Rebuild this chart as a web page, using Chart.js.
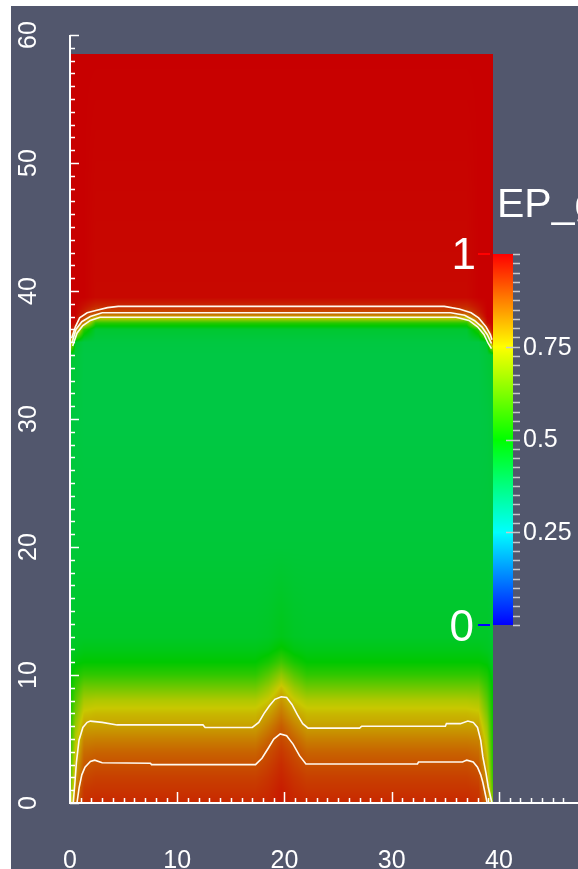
<!DOCTYPE html>
<html>
<head>
<meta charset="utf-8">
<title>EP_g</title>
<script src="https://cdn.jsdelivr.net/npm/chart.js@4.4.1/dist/chart.umd.min.js"></script>
<style>
  html, body { margin: 0; padding: 0; background: #fff; }
  #plot { position: absolute; left: 11px; top: 6px; background: #52576d; }
</style>
</head>
<body>
<canvas id="plot" width="567" height="863"></canvas>
<script>
let heights = [0, 1, 2, 3, 4, 5, 6, 7, 8, 9, 10, 11, 12, 13, 20, 30, 35, 36, 37, 37.5, 38, 38.3, 38.8, 39.5, 58.5];

// EP_g profiles, bottom to top, one per kind of column
let epgBed      = [0.95, 0.935, 0.92, 0.90, 0.875, 0.84, 0.80, 0.77, 0.72, 0.64, 0.56, 0.50, 0.47, 0.45, 0.43, 0.415, 0.415, 0.42, 0.44, 0.55, 0.80, 0.90, 0.95, 0.99, 1.0];
let epgShoulder = [0.955, 0.945, 0.935, 0.92, 0.903, 0.875, 0.84, 0.80, 0.755, 0.69, 0.61, 0.53, 0.48, 0.455, 0.43, 0.415, 0.415, 0.42, 0.44, 0.55, 0.80, 0.90, 0.95, 0.99, 1.0];
let epgBump     = [0.97, 0.965, 0.955, 0.945, 0.93, 0.91, 0.885, 0.85, 0.815, 0.765, 0.68, 0.58, 0.51, 0.47, 0.43, 0.415, 0.415, 0.42, 0.44, 0.55, 0.80, 0.90, 0.95, 0.99, 1.0];
let epgInner    = [0.94, 0.93, 0.91, 0.89, 0.865, 0.835, 0.80, 0.76, 0.71, 0.64, 0.56, 0.50, 0.47, 0.45, 0.43, 0.415, 0.415, 0.42, 0.55, 0.84, 0.93, 0.96, 0.98, 1.0, 1.0];
let epgEdge     = [0.87, 0.84, 0.81, 0.78, 0.75, 0.72, 0.69, 0.65, 0.61, 0.57, 0.53, 0.49, 0.46, 0.45, 0.43, 0.42, 0.43, 0.45, 0.905, 0.985, 1.0, 1.0, 1.0, 1.0, 1.0];
let epgWall     = [0.70, 0.62, 0.58, 0.56, 0.55, 0.54, 0.53, 0.52, 0.51, 0.50, 0.48, 0.46, 0.45, 0.44, 0.43, 0.43, 0.44, 0.90, 0.99, 1.0, 1.0, 1.0, 1.0, 1.0, 1.0];

// x position of each column and which profile it has
let columnX = [0, 0.5, 1.3, 2.4, 17.3, 18.5, 19.7, 20.9, 22.1, 37.0, 38.1, 38.9, 39.4];
let columnProfiles = [epgWall, epgEdge, epgInner, epgBed, epgBed, epgShoulder, epgBump, epgShoulder, epgBed, epgBed, epgInner, epgEdge, epgWall];

// contour lines [x, y]
let bottom90 = [[0.65, 0], [0.85, 1.2], [1.1, 2.2], [1.4, 2.8], [1.9, 3.25], [2.3, 3.35], [3, 3.15], [7.5, 3.1], [7.6, 3.0], [17.3, 3.0], [17.9, 3.5], [18.5, 4.3], [19.0, 5.0], [19.6, 5.4], [20.2, 5.25], [20.8, 4.6], [21.4, 3.7], [22.0, 3.05], [32.4, 3.05], [32.5, 3.2], [36.6, 3.2], [37.0, 3.35], [37.6, 3.2], [38.0, 2.8], [38.3, 2.2], [38.5, 1.6], [38.7, 0.8], [38.9, 0]];
let bottom80 = [[0.3, 0], [0.45, 1.5], [0.6, 3.2], [0.84, 4.9], [1.2, 5.9], [1.6, 6.3], [1.9, 6.4], [3, 6.3], [4.4, 6.1], [12.4, 6.1], [12.6, 5.9], [17.0, 5.9], [17.6, 6.3], [18.1, 7.0], [18.6, 7.6], [19.1, 8.1], [19.7, 8.3], [20.2, 8.25], [20.7, 7.7], [21.2, 6.9], [21.7, 6.2], [22.2, 5.85], [27, 5.85], [27.2, 6.0], [35, 6.0], [35.1, 6.2], [36.4, 6.2], [37.1, 6.4], [37.6, 6.3], [38.0, 5.9], [38.3, 4.9], [38.5, 3.6], [38.8, 2.3], [39.0, 1.25], [39.35, 0]];
let top95 = [[0.15, 36.3], [0.5, 37.2], [0.9, 37.9], [1.6, 38.3], [2.5, 38.5], [3.5, 38.7], [4.5, 38.8], [34.9, 38.8], [36.3, 38.6], [37.4, 38.3], [38.1, 37.9], [38.8, 37.2], [39.2, 36.6], [39.35, 36.2]];
let top90 = [[0.2, 36.0], [0.55, 37.0], [1.1, 37.6], [1.9, 38.0], [3.0, 38.3], [35.5, 38.3], [36.8, 38.1], [37.7, 37.7], [38.4, 37.2], [38.9, 36.6], [39.3, 35.9]];
let top80 = [[0.25, 35.7], [0.65, 36.7], [1.2, 37.3], [1.9, 37.7], [2.8, 37.95], [36.0, 37.95], [37.2, 37.7], [38.0, 37.2], [38.6, 36.6], [39.0, 35.9], [39.3, 35.5]];

let xTickLabels = [0, 10, 20, 30, 40];
let yTickLabels = [0, 10, 20, 30, 40, 50, 60];
let barLabels = [0.25, 0.5, 0.75];

let labelFont = '"Liberation Sans", Arial, sans-serif';

// blue -> red rainbow (hue 240 -> 0)
function rainbow(v, bright) {
    v = Math.min(1, Math.max(0, v));
    let h = (1 - v) * 4;
    let f = h - Math.floor(h);
    let r, g, b;
    switch (Math.floor(h)) {
        case 0: r = 1; g = f; b = 0; break;
        case 1: r = 1 - f; g = 1; b = 0; break;
        case 2: r = 0; g = 1; b = f; break;
        case 3: r = 0; g = 1 - f; b = 1; break;
        default: r = 0; g = 0; b = 1;
    }
    return [r * bright * 255, g * bright * 255, b * bright * 255];
}

function bracket(arr, v) {
    let i = 0;
    while (i < arr.length - 2 && v > arr[i + 1]) i++;
    let t = (v - arr[i]) / (arr[i + 1] - arr[i]);
    return [i, Math.min(1, Math.max(0, t))];
}

let fieldPlugin = {
    id: 'field',
    beforeDatasetsDraw(chart) {
        let ctx = chart.ctx;
        let xs = chart.scales.x, ys = chart.scales.y;
        let left = Math.round(xs.getPixelForValue(columnX[0]));
        let right = Math.round(xs.getPixelForValue(columnX[columnX.length - 1]));
        let top = Math.round(ys.getPixelForValue(heights[heights.length - 1]));
        let bottom = Math.round(ys.getPixelForValue(heights[0]));
        let w = right - left, h = bottom - top;
        let off = document.createElement('canvas');
        off.width = w; off.height = h;
        let octx = off.getContext('2d');
        let img = octx.createImageData(w, h);
        let cols = [];
        for (let i = 0; i < w; i++) cols.push(bracket(columnX, xs.getValueForPixel(left + i + 0.5)));
        for (let j = 0; j < h; j++) {
            let [r, tr] = bracket(heights, ys.getValueForPixel(top + j + 0.5));
            for (let i = 0; i < w; i++) {
                let [c, tc] = cols[i];
                let a = columnProfiles[c], b = columnProfiles[c + 1];
                let va = a[r] + (a[r + 1] - a[r]) * tr;
                let vb = b[r] + (b[r + 1] - b[r]) * tr;
                let rgb = rainbow(va + (vb - va) * tc, 0.785);
                let k = (j * w + i) * 4;
                img.data[k] = rgb[0]; img.data[k + 1] = rgb[1]; img.data[k + 2] = rgb[2]; img.data[k + 3] = 255;
            }
        }
        octx.putImageData(img, 0, 0);
        ctx.drawImage(off, left, top);
    }
};

let axesPlugin = {
    id: 'cubeAxes',
    afterDatasetsDraw(chart) {
        let ctx = chart.ctx;
        let xs = chart.scales.x, ys = chart.scales.y;
        let area = chart.chartArea;
        ctx.save();
        ctx.strokeStyle = '#ffffff';
        ctx.fillStyle = '#ffffff';
        ctx.lineWidth = 2;
        ctx.beginPath();
        ctx.moveTo(area.left, area.top);
        ctx.lineTo(area.left, area.bottom);
        ctx.lineTo(chart.width, area.bottom);
        ctx.stroke();
        ctx.lineWidth = 1.5;
        ctx.beginPath();
        ys.ticks.forEach(t => {
            if (!Number.isInteger(t.value)) return;
            let py = Math.round(ys.getPixelForValue(t.value)) + 0.5;
            let len = t.value % 10 === 0 ? 9 : 5;
            ctx.moveTo(area.left, py);
            ctx.lineTo(area.left + len, py);
        });
        xs.ticks.forEach(t => {
            if (!Number.isInteger(t.value)) return;
            let px = Math.round(xs.getPixelForValue(t.value)) + 0.5;
            let len = t.value % 10 === 0 ? 11 : 5;
            ctx.moveTo(px, area.bottom);
            ctx.lineTo(px, area.bottom - len);
        });
        ctx.stroke();
        // rotated y labels
        ctx.font = '25px ' + labelFont;
        ctx.textAlign = 'center';
        ctx.textBaseline = 'middle';
        yTickLabels.forEach(v => {
            ctx.save();
            ctx.translate(18, ys.getPixelForValue(v));
            ctx.rotate(-Math.PI / 2);
            ctx.fillText(String(v), 0, 0);
            ctx.restore();
        });
        ctx.restore();
    },
    afterDraw(chart) {
        // colour bar legend
        let ctx = chart.ctx;
        let barLeft = 482, barRight = 502, barTop = 248, barBottom = 619;
        let pos = v => barBottom - v * (barBottom - barTop);
        ctx.save();
        let grad = ctx.createLinearGradient(0, barBottom, 0, barTop);
        for (let s = 0; s <= 40; s++) {
            let rgb = rainbow(s / 40, 1);
            grad.addColorStop(s / 40, `rgb(${rgb.map(Math.round).join(',')})`);
        }
        ctx.fillStyle = grad;
        ctx.fillRect(barLeft, barTop, barRight - barLeft, barBottom - barTop);
        ctx.strokeStyle = '#c8c8cc';
        ctx.lineWidth = 1.5;
        ctx.beginPath();
        for (let s = 0; s <= 40; s++) {
            let py = Math.round(pos(s / 40)) + 0.5;
            ctx.moveTo(barRight, py);
            ctx.lineTo(barRight + 7, py);
        }
        barLabels.forEach(v => {
            let py = Math.round(pos(v)) + 0.5;
            ctx.moveTo(barRight - 7, py);
            ctx.lineTo(barRight, py);
        });
        ctx.stroke();
        ctx.fillStyle = '#ffffff';
        ctx.font = '25px ' + labelFont;
        ctx.textAlign = 'left';
        ctx.textBaseline = 'middle';
        barLabels.forEach(v => ctx.fillText(String(v), barRight + 10, pos(v) + 1));
        // end labels with coloured marks
        ctx.lineWidth = 2;
        ctx.strokeStyle = '#ff0000';
        ctx.beginPath(); ctx.moveTo(467, barTop); ctx.lineTo(479, barTop); ctx.stroke();
        ctx.strokeStyle = '#0000ff';
        ctx.beginPath(); ctx.moveTo(467, barBottom); ctx.lineTo(479, barBottom); ctx.stroke();
        ctx.font = '44px ' + labelFont;
        ctx.textAlign = 'right';
        ctx.textBaseline = 'alphabetic';
        ctx.fillText('1', 465, barTop + 15);
        ctx.fillText('0', 463, barBottom + 16);
        ctx.textAlign = 'left';
        ctx.font = '41px ' + labelFont;
        ctx.fillText('EP_g', 486, 211);
        ctx.restore();
    }
};

function contourSet(label, pts) {
    return {
        label: label,
        data: pts.map(p => ({x: p[0], y: p[1]})),
        showLine: true,
        borderColor: '#fffaf0',
        borderWidth: 1.6,
        pointRadius: 0,
        tension: 0
    };
}

let ctx = document.getElementById('plot').getContext('2d');

let myChart = new Chart(ctx, {
    type: 'scatter',
    data: {
        datasets: [
            contourSet('EP_g 0.9 (bottom)', bottom90),
            contourSet('EP_g 0.8 (bottom)', bottom80),
            contourSet('EP_g 0.8 (top)', top80),
            contourSet('EP_g 0.9 (top)', top90),
            contourSet('EP_g 0.95 (top)', top95)
        ]
    },
    options: {
        responsive: false,
        animation: false,
        devicePixelRatio: 1,
        layout: { padding: { top: 29, right: 0, left: 0, bottom: 0 } },
        plugins: { legend: { display: false }, tooltip: { enabled: false } },
        scales: {
            x: {
                type: 'linear',
                min: 0,
                max: 47.37,
                grid: { display: false },
                border: { display: false },
                ticks: {
                    stepSize: 1,
                    autoSkip: false,
                    maxRotation: 0,
                    padding: 35,
                    color: '#ffffff',
                    font: { size: 25, family: labelFont },
                    callback: v => xTickLabels.includes(v) ? String(v) : ''
                },
                afterFit: s => { s.height = 66; s.paddingLeft = 0; s.paddingRight = 0; }
            },
            y: {
                type: 'linear',
                min: 0,
                max: 60,
                grid: { display: false },
                border: { display: false },
                ticks: { stepSize: 1, display: false },
                afterFit: s => { s.width = 59; }
            }
        }
    },
    plugins: [fieldPlugin, axesPlugin]
});
</script>
</body>
</html>
